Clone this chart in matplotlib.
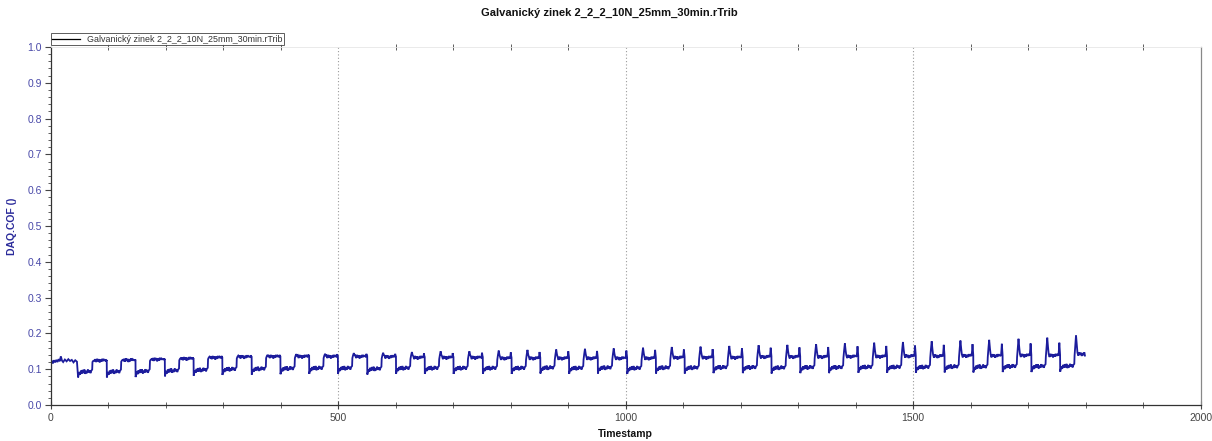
import matplotlib
matplotlib.use("Agg")
import matplotlib.pyplot as plt
from matplotlib.lines import Line2D
from matplotlib.ticker import MultipleLocator
import numpy as np

# ---------------- data ----------------
title = "Galvanický zinek 2_2_2_10N_25mm_30min.rTrib"
series_name = "Galvanický zinek 2_2_2_10N_25mm_30min.rTrib"

# opening high segment before the first drop
start_t = [0, 1, 2, 4, 6, 8, 10, 12, 14, 16, 18, 20, 22, 25, 28, 31, 34, 37, 40, 43, 46]
start_v = [0.108, 0.118, 0.124, 0.116, 0.125, 0.119, 0.126, 0.120, 0.128, 0.122,
           0.136, 0.124, 0.120, 0.127, 0.122, 0.128, 0.123, 0.126, 0.119, 0.125, 0.121]

# times at which the signal drops to its low level (one per cycle)
drop_times = [48, 98, 148, 199, 249, 299, 350, 400, 450, 500, 551, 601,
              651, 701, 752, 802, 852, 902, 952, 1003, 1053, 1103, 1153,
              1204, 1254, 1304, 1354, 1405, 1455, 1505, 1555, 1605, 1656,
              1706, 1756]
end_time = 1799

low_levels = [0.090, 0.090, 0.091, 0.093, 0.095, 0.097, 0.098,
              0.099, 0.100, 0.100, 0.098, 0.100, 0.100, 0.100,
              0.100, 0.100, 0.101, 0.100, 0.101, 0.100, 0.101,
              0.101, 0.102, 0.102, 0.101, 0.102, 0.102, 0.103,
              0.103, 0.103, 0.104, 0.104, 0.105, 0.105, 0.106]
high_levels = [0.122, 0.123, 0.125, 0.127, 0.130, 0.132, 0.133,
               0.133, 0.133, 0.133, 0.132, 0.130, 0.130, 0.130,
               0.128, 0.128, 0.128, 0.128, 0.128, 0.128, 0.130,
               0.130, 0.130, 0.132, 0.132, 0.132, 0.133, 0.133,
               0.134, 0.134, 0.135, 0.135, 0.136, 0.136, 0.140]
rise_peaks = [0.124, 0.126, 0.128, 0.131, 0.135, 0.138, 0.140,
              0.142, 0.143, 0.145, 0.146, 0.148, 0.150, 0.150,
              0.152, 0.154, 0.155, 0.157, 0.158, 0.160, 0.162,
              0.163, 0.165, 0.167, 0.168, 0.170, 0.172, 0.174,
              0.176, 0.178, 0.180, 0.182, 0.185, 0.188, 0.195]
end_peaks = [0.125, 0.127, 0.130, 0.133, 0.137, 0.139, 0.140,
             0.141, 0.142, 0.143, 0.143, 0.144, 0.145, 0.146,
             0.147, 0.148, 0.150, 0.151, 0.152, 0.154, 0.155,
             0.156, 0.158, 0.160, 0.161, 0.162, 0.164, 0.165,
             0.166, 0.168, 0.170, 0.171, 0.172, 0.174]

# typical within-cycle wiggle (time offset, value offset)
low_shape_dt = [0.0, 1.0, 2.0, 3.5, 5.0, 6.5, 8.0, 9.5, 11.0, 12.5, 14.0,
                15.5, 17.0, 18.5, 20.0, 21.5, 23.0, 24.5]
low_shape_dv = [-0.013, -0.005, 0.002, -0.005, 0.006, -0.002, 0.008, -0.001,
                0.009, -0.003, 0.005, -0.001, 0.009, 0.001, 0.007, -0.001,
                0.006, 0.009]
rise_after = 25.0
high_shape_dt = [0.0, 1.2, 2.5, 3.8, 5.0, 6.5, 8.0, 9.5, 11.0, 12.5, 14.0,
                 15.5, 17.0, 18.5, 20.0]
high_shape_dv = [-0.002, "mid", "peak", "mid", 0.006, -0.002, 0.007, 0.000,
                 0.006, -0.003, 0.005, -0.001, 0.007, 0.001, 0.005]

# ---------------- build trace vertices ----------------
ts = list(start_t)
vs = list(start_v)
n = len(drop_times)
for k in range(n):
    d = drop_times[k]
    lo = low_levels[k]
    hi = high_levels[k]
    pk = rise_peaks[k]
    for dt, dv in zip(low_shape_dt, low_shape_dv):
        ts.append(d + dt); vs.append(lo + dv)
    r = d + rise_after
    for dt, dv in zip(high_shape_dt, high_shape_dv):
        t = r + dt
        if t > end_time:
            break
        ts.append(t)
        if dv == "peak":
            vs.append(pk)
        elif dv == "mid":
            vs.append(0.5 * (pk + hi))
        else:
            vs.append(hi + dv)
    if k < n - 1:
        nd = drop_times[k + 1]
        ep = end_peaks[k]
        ts += [nd - 3.0, nd - 2.2, nd - 1.5, nd - 0.8, nd - 0.2]
        vs += [hi + 0.002, 0.5 * (hi + ep), ep, 0.5 * (hi + ep), hi + 0.004]
    else:
        ts.append(end_time); vs.append(hi - 0.002)

ts = np.array(ts); vs = np.array(vs)

# ---------------- figure ----------------
W, H = 1212, 441
fig = plt.figure(figsize=(W / 100, H / 100), dpi=100)
fig.patch.set_facecolor("white")
ax = fig.add_axes([50.5 / W, 1 - 405 / H, 1150 / W, 358 / H])

line_color = "#1c1c9c"
ax.plot(ts, vs, color=line_color, lw=1.3, solid_joinstyle="miter")

ax.set_xlim(0, 2000)
ax.set_ylim(0, 1.0)

for xv in [500, 1000, 1500]:
    ax.axvline(xv, color="#9a9a9a", lw=0.8, ls=(0, (1, 2)), zorder=0)

ax.xaxis.set_major_locator(MultipleLocator(500))
ax.xaxis.set_minor_locator(MultipleLocator(100))
ax.yaxis.set_major_locator(MultipleLocator(0.1))
ax.yaxis.set_minor_locator(MultipleLocator(0.02))
ax.yaxis.set_major_formatter(plt.FuncFormatter(lambda v, p: f"{v:.1f}"))

font = "Liberation Sans"
ax.tick_params(axis="x", which="major", direction="inout", length=6, width=0.8,
               color="#444444", labelsize=7.5, labelcolor="#444444", pad=3,
               top=False)
ax.tick_params(axis="x", which="minor", direction="inout", length=4, width=0.6,
               color="#444444", top=True)
ax.tick_params(axis="y", which="major", direction="out", length=4, width=0.8,
               color="#444444", labelsize=7.5, labelcolor="#4848a8", pad=2)
ax.tick_params(axis="y", which="minor", direction="out", length=2, width=0.6,
               color="#444444")
for lab in ax.get_xticklabels() + ax.get_yticklabels():
    lab.set_fontfamily(font)

for s in ["left", "bottom"]:
    ax.spines[s].set_color("#333333")
    ax.spines[s].set_linewidth(0.9)
ax.spines["right"].set_color("#888888")
ax.spines["right"].set_linewidth(0.9)
ax.spines["top"].set_color("#e6e6e6")
ax.spines["top"].set_linewidth(0.6)

ax.set_xlabel("Timestamp", fontsize=7.5, fontweight="bold", family=font,
              color="#111111", labelpad=4)
ax.set_ylabel("DAQ.COF ()", fontsize=7.5, fontweight="bold", family=font,
              color="#2a2a9a", labelpad=8)

fig.text(609 / W, 1 - 13 / H, title, ha="center", va="center",
         fontsize=8, fontweight="bold", family=font, color="#111111")

handle = Line2D([0], [0], color="black", lw=0.9)
leg = fig.legend([handle], [series_name], loc="lower left",
                 bbox_to_anchor=(50.5 / W, 1 - 45 / H), frameon=True,
                 fancybox=False, prop={"family": font, "size": 6.4},
                 borderpad=0.15, handlelength=3.2, handletextpad=0.8,
                 borderaxespad=0)
leg.get_frame().set_edgecolor("#333333")
leg.get_frame().set_linewidth(0.7)
for t in leg.get_texts():
    t.set_color("#333333")

fig.savefig("out.png", dpi=100, facecolor="white")
